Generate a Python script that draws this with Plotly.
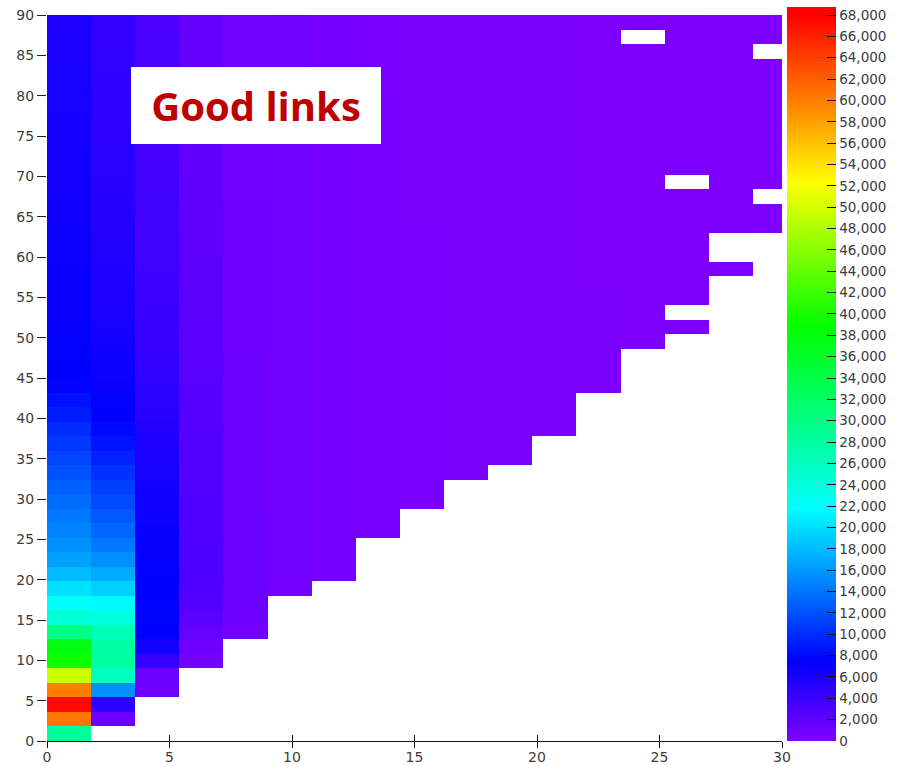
import plotly.graph_objects as go

N = None

# cell centres (bins are 1.8 wide in both directions)
X_CENTERS = [0.9, 2.7, 4.5, 6.3, 8.1, 9.9, 11.7, 13.5, 15.3, 17.1, 18.9,
             20.7, 22.5, 24.3, 26.1, 27.9, 29.7]
Y_CENTERS = [0.9, 2.7, 4.5, 6.3, 8.1, 9.9, 11.7, 13.5, 15.3, 17.1,
             18.9, 20.7, 22.5, 24.3, 26.1, 27.9, 29.7, 31.5, 33.3, 35.1,
             36.9, 38.7, 40.5, 42.3, 44.1, 45.9, 47.7, 49.5, 51.3, 53.1,
             54.9, 56.7, 58.5, 60.3, 62.1, 63.9, 65.7, 67.5, 69.3, 71.1,
             72.9, 74.7, 76.5, 78.3, 80.1, 81.9, 83.7, 85.5, 87.3, 89.1]

# counts per column (index = row from bottom)
col0 = [28500, 60500, 67500, 60000, 49500, 39500, 37500, 30000, 24500, 22000,
        20000, 18000, 16500, 15500, 14800, 14200, 13500, 12800, 12000, 11300,
        10600, 9900, 9000, 8300, 7700, 7500, 7400, 7300, 7200, 7100,
        7000, 7000, 6900, 6800, 6800, 6700, 6600, 6500, 6500, 6400,
        6400, 6300, 6300, 6200, 6200, 6100, 6100, 6000, 6000, 5900]
col1 = [N, 1300, 5000, 15600, 26000, 28000, 28000, 26500, 24000, 21500,
        19000, 17000, 15500, 14200, 13200, 12400, 11700, 11000, 10200, 9300,
        8500, 7900, 7500, 7300, 7000, 6800, 6600, 6400, 6200, 6000,
        5900, 5800, 5700, 5600, 5500, 5400, 5300, 5200, 5100, 5000,
        5000, 4900, 4800, 4800, 4700, 4700, 4600, 4600, 4500, 4500]
col2 = [N, N, N, 1000, 1200, 4500, 6500, 7500, 7600, 7600,
        7500, 7400, 7300, 7200, 7000, 6800, 6600, 6400, 6200, 6000,
        5800, 5500, 5200, 5000, 4800, 4600, 4400, 4300, 4200, 4100,
        4000, 3900, 3850, 3800, 3750, 3700, 3650, 3600, 3550, 3500,
        3450, 3400, 3350, 3300, 3250, 3200, 3150, 3100, 3050, 3000]
col3 = [N, N, N, N, N, 700, 1100, 1500, 2200, 2600,
        2800, 2900, 2900, 2900, 2850, 2800, 2750, 2700, 2650, 2600,
        2550, 2500, 2450, 2400, 2350, 2300, 2250, 2200, 2150, 2100,
        2050, 2000, 2000, 1950, 1950, 1900, 1900, 1850, 1850, 1800,
        1800, 1750, 1750, 1700, 1700, 1650, 1650, 1600, 1600, 1600]
col4 = [N, N, N, N, N, N, N, 800, 1100, 1300,
        1300, 1300, 1300, 1300, 1300, 1300, 1250, 1250, 1250, 1200,
        1200, 1200, 1200, 1150, 1150, 1150, 1150, 1100, 1100, 1100,
        1100, 1100, 1050, 1050, 1050, 1050, 1050, 1000, 1000, 1000,
        1000, 1000, 1000, 1000, 950, 950, 950, 950, 950, 950]
col5 = [N, N, N, N, N, N, N, N, N, N,
        700, 850, 900, 900, 900, 900, 900, 900, 900, 900,
        880, 880, 880, 860, 860, 860, 860, 850, 850, 850,
        850, 840, 840, 840, 830, 830, 830, 820, 820, 820,
        820, 810, 810, 810, 800, 800, 800, 800, 800, 800]
col6 = [N, N, N, N, N, N, N, N, N, N,
        N, 600, 620, 620, 620, 620, 620, 620, 620, 620,
        610, 610, 610, 610, 600, 600, 600, 600, 600, 600,
        600, 600, 590, 590, 590, 590, 590, 580, 580, 580,
        580, 580, 570, 570, 570, 570, 560, 560, 560, 560]
col7 = [N, N, N, N, N, N, N, N, N, N,
        N, N, N, N, 480, 480, 480, 480, 480, 480,
        470, 470, 470, 470, 470, 470, 460, 460, 460, 460,
        460, 460, 450, 450, 450, 450, 450, 450, 440, 440,
        440, 440, 440, 440, 430, 430, 430, 430, 430, 430]
col8 = [N, N, N, N, N, N, N, N, N, N,
        N, N, N, N, N, N, 400, 400, 400, 400,
        400, 400, 400, 390, 390, 390, 390, 390, 390, 380,
        380, 380, 380, 380, 380, 370, 370, 370, 370, 370,
        370, 360, 360, 360, 360, 360, 360, 350, 350, 350]
col9 = [N, N, N, N, N, N, N, N, N, N,
        N, N, N, N, N, N, N, N, 350, 350,
        350, 350, 350, 340, 340, 340, 340, 340, 340, 330,
        330, 330, 330, 330, 330, 320, 320, 320, 320, 320,
        320, 310, 310, 310, 310, 310, 310, 300, 300, 300]
col10 = [N, N, N, N, N, N, N, N, N, N,
         N, N, N, N, N, N, N, N, N, 300,
         300, 300, 300, 290, 290, 290, 290, 290, 290, 280,
         280, 280, 280, 280, 280, 270, 270, 270, 270, 270,
         270, 260, 260, 260, 260, 260, 260, 250, 250, 250]
col11 = [N, N, N, N, N, N, N, N, N, N,
         N, N, N, N, N, N, N, N, N, N,
         N, 250, 250, 250, 250, 250, 240, 240, 240, 240,
         240, 240, 230, 230, 230, 230, 230, 230, 220, 220,
         220, 220, 220, 220, 210, 210, 210, 210, 210, 210]
col12 = [N, N, N, N, N, N, N, N, N, N,
         N, N, N, N, N, N, N, N, N, N,
         N, N, N, N, 220, 220, 220, 210, 210, 210,
         210, 210, 200, 200, 200, 200, 200, 200, 190, 190,
         190, 190, 190, 190, 180, 180, 180, 180, 180, 180]
col13 = [N, N, N, N, N, N, N, N, N, N,
         N, N, N, N, N, N, N, N, N, N,
         N, N, N, N, N, N, N, 180, 180, 180,
         180, 180, 170, 170, 170, 170, 170, 170, 170, 160,
         160, 160, 160, 160, 160, 160, 160, 160, N, 160]
col14 = [N, N, N, N, N, N, N, N, N, N,
         N, N, N, N, N, N, N, N, N, N,
         N, N, N, N, N, N, N, N, 160, N,
         160, 160, 160, 160, 160, 160, 160, 160, N, 150,
         150, 150, 150, 150, 150, 150, 150, 150, 150, 150]
col15 = [N, N, N, N, N, N, N, N, N, N,
         N, N, N, N, N, N, N, N, N, N,
         N, N, N, N, N, N, N, N, N, N,
         N, N, 150, N, N, 150, 150, 150, 150, 150,
         150, 150, 150, 150, 140, 140, 140, 140, 140, 140]
col16 = [N, N, N, N, N, N, N, N, N, N,
         N, N, N, N, N, N, N, N, N, N,
         N, N, N, N, N, N, N, N, N, N,
         N, N, N, N, N, 140, 140, N, 140, 140,
         140, 140, 140, 140, 140, 140, 140, N, 140, 140]

COLUMNS = [col0, col1, col2, col3, col4, col5, col6, col7, col8, col9,
           col10, col11, col12, col13, col14, col15, col16]

X_TICKS = [0, 5, 10, 15, 20, 25, 30]
Y_TICKS = [0, 5, 10, 15, 20, 25, 30, 35, 40, 45, 50, 55, 60, 65, 70, 75, 80, 85, 90]
CBAR_TICKS = list(range(0, 68001, 2000))
TOP_TICK = 68000          # highest labelled value
BAR_TOP = 68750           # the bar runs a little past the last label (solid red)

z = [[COLUMNS[c][r] for c in range(len(X_CENTERS))] for r in range(len(Y_CENTERS))]

k = TOP_TICK / BAR_TOP
colorscale = [
    [0.0, "#8000ff"],
    [0.11 * k, "#0000ff"],
    [0.32 * k, "#00ffff"],
    [0.57 * k, "#00ff00"],
    [0.77 * k, "#ffff00"],
    [0.88 * k, "#ff8000"],
    [1.0 * k, "#ff0000"],
    [1.0, "#ff0000"],
]

W, H = 906, 765
ML, MR, MT, MB = 47, 123, 15, 24
PW = W - ML - MR
PH = H - MT - MB
BAR_LEN = 734

fig = go.Figure()
fig.add_trace(go.Heatmap(
    x=X_CENTERS, y=Y_CENTERS, z=z,
    colorscale=colorscale, zmin=0, zmax=BAR_TOP,
    hoverongaps=False,
    colorbar=dict(
        thickness=49, thicknessmode="pixels",
        len=BAR_LEN, lenmode="pixels",
        x=(786.5 - ML) / PW, xanchor="left", xpad=0,
        y=0, yanchor="bottom", ypad=0,
        outlinewidth=0,
        tickmode="array", tickvals=CBAR_TICKS,
        tickformat=",d", tickprefix=" ",
        ticks="inside", ticklen=9, tickcolor="#111", tickwidth=1,
        tickfont=dict(family="DejaVu Sans", size=13.5, color="#3c3c3c"),
    ),
))

# second x axis only to make the x tick marks cross the axis line
fig.add_trace(go.Scatter(x=[None], y=[None], xaxis="x2", yaxis="y",
                         showlegend=False, hoverinfo="skip"))

fig.update_layout(
    width=W, height=H, autosize=False,
    margin=dict(l=ML, r=MR, t=MT, b=MB, pad=0),
    paper_bgcolor="white", plot_bgcolor="white",
    font=dict(family="DejaVu Sans", size=14, color="#3c3c3c"),
    xaxis=dict(
        range=[0, 30], tickmode="array", tickvals=X_TICKS,
        showgrid=False, zeroline=False, automargin=False,
        showline=True, linecolor="#111", linewidth=1,
        ticks="outside", ticklen=6, tickcolor="#111",
        ticklabelstandoff=-3,
        tickfont=dict(family="DejaVu Sans", size=14, color="#3c3c3c"),
    ),
    xaxis2=dict(
        range=[0, 30], overlaying="x", anchor="y", side="bottom",
        tickmode="array", tickvals=X_TICKS, showticklabels=False,
        showgrid=False, zeroline=False, showline=False, automargin=False,
        ticks="inside", ticklen=6, tickcolor="#111",
    ),
    yaxis=dict(
        range=[0, 90], tickmode="array", tickvals=Y_TICKS,
        showgrid=False, zeroline=False, showline=False, automargin=False,
        ticks="outside", ticklen=9, tickcolor="#222",
        tickfont=dict(family="DejaVu Sans", size=14, color="#3c3c3c"),
    ),
    shapes=[dict(
        type="line", xref="paper", yref="paper",
        x0=(835.5 - ML) / PW, x1=(835.5 - ML) / PW,
        y0=0, y1=BAR_LEN / PH,
        line=dict(color="#111", width=1.3),
    )],
    annotations=[dict(
        text="<b>Good links</b>",
        xref="paper", yref="paper",
        x=(256 - ML) / PW, y=(H - MB - 105.5) / PH,
        xanchor="center", yanchor="middle",
        showarrow=False,
        bgcolor="white", borderwidth=1, bordercolor="white", borderpad=0,
        width=248, height=75, align="center", valign="middle",
        font=dict(family="Open Sans", size=40, color="#c00000"),
    )],
)

fig.write_html("out.html")
